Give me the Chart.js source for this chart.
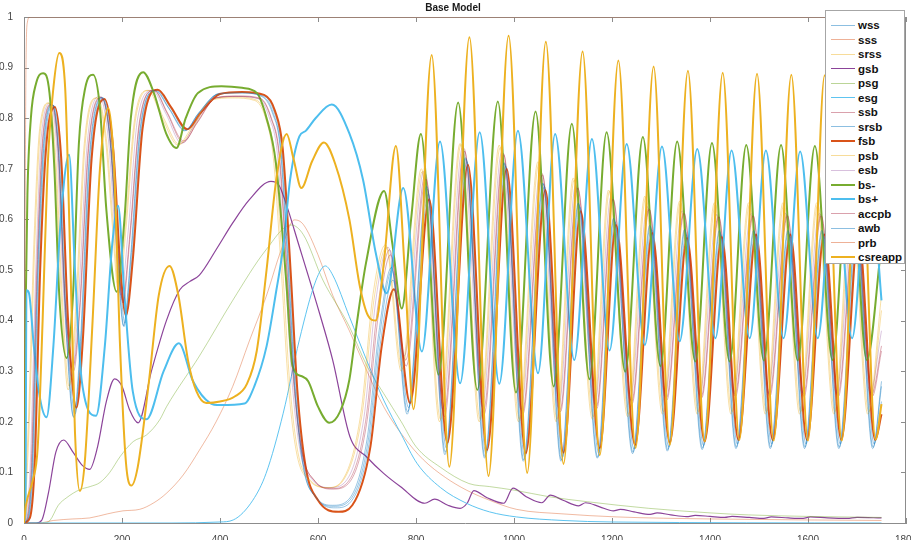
<!DOCTYPE html>
<html>
<head>
<meta charset="utf-8">
<script src="https://cdn.jsdelivr.net/npm/chart.js@4.4.1/dist/chart.umd.min.js"></script>
<style>
  body { margin: 0; background: #fff; }
  #wrap { position: relative; width: 911px; height: 540px; }
  #legend {
    position: absolute; left: 825px; top: 10px; width: 80px; height: 254px;
    border: 1px solid #a6a6a6; background: #fff; box-sizing: border-box;
    padding-top: 7px; font-family: "Liberation Sans", Arial, sans-serif;
  }
  .row { display: flex; align-items: center; height: 14.5px; }
  .swatch { margin-left: 5px; width: 24px; }
  .lbl { margin-left: 3px; font-weight: bold; font-size: 11.5px; color: #111; }
</style>
</head>
<body>
<div id="wrap">
  <canvas id="canvas"></canvas>
  <div id="legend"></div>
</div>
<script>
// series: [time, value] at turning points
var wss = [[0,0],[9,0.01],[18,0.12],[29,0.5],[41,0.75],[59,0.826],[72,0.72],[86,0.4],[102,0.208],[115,0.34],[134,0.72],[160,0.84],[178,0.74],[193,0.5],[204,0.388],[218,0.52],[238,0.78],[269,0.855],[296,0.82],[329,0.776],[356,0.81],[396,0.848],[441,0.85],[486,0.844],[508,0.812],[524,0.74],[540,0.5],[554,0.26],[571,0.11],[596,0.05],[632,0.033],[665,0.045],[702,0.16],[726,0.37],[751,0.5],[783,0.22],[823,0.66],[860,0.14],[902,0.72],[941,0.131],[981,0.71],[1020,0.125],[1060,0.67],[1097,0.125],[1132,0.63],[1171,0.13],[1204,0.6],[1243,0.14],[1278,0.585],[1314,0.145],[1349,0.577],[1385,0.148],[1420,0.575],[1454,0.15],[1490,0.575],[1524,0.15],[1560,0.575],[1594,0.15],[1629,0.575],[1664,0.15],[1699,0.575],[1733,0.15],[1750,0.27]];
var sss = [[0,0],[30,0],[60,0.005],[100,0.008],[134,0.01],[170,0.018],[202,0.024],[236,0.027],[265,0.04],[291,0.059],[325,0.095],[358,0.144],[392,0.2],[426,0.27],[460,0.36],[494,0.447],[525,0.54],[552,0.599],[570,0.59],[600,0.53],[630,0.45],[664,0.38],[700,0.3],[734,0.23],[775,0.17],[815,0.125],[860,0.09],[903,0.065],[950,0.045],[1005,0.027],[1100,0.018],[1210,0.012],[1400,0.008],[1750,0.005]];
var srss = [[0,0],[3,0.04],[10,0.18],[22,0.55],[34,0.78],[52,0.83],[65,0.72],[78,0.45],[92,0.27],[106,0.4],[125,0.75],[150,0.84],[168,0.76],[183,0.58],[194,0.455],[208,0.58],[228,0.8],[256,0.855],[285,0.8],[317,0.748],[344,0.78],[384,0.837],[429,0.842],[474,0.836],[496,0.8],[512,0.72],[528,0.5],[542,0.28],[559,0.14],[584,0.085],[622,0.07],[652,0.085],[690,0.215],[714,0.44],[740,0.545],[772,0.305],[813,0.695],[850,0.205],[892,0.748],[931,0.205],[972,0.742],[1011,0.205],[1051,0.71],[1088,0.205],[1123,0.678],[1162,0.21],[1195,0.655],[1234,0.215],[1269,0.643],[1305,0.22],[1340,0.633],[1376,0.22],[1411,0.63],[1445,0.22],[1481,0.63],[1515,0.22],[1551,0.63],[1585,0.22],[1620,0.63],[1655,0.22],[1690,0.63],[1724,0.22],[1750,0.42]];
var gsb = [[0,0],[25,0],[36,0.005],[50,0.06],[65,0.14],[81,0.164],[100,0.14],[118,0.115],[134,0.106],[150,0.15],[168,0.24],[185,0.285],[200,0.27],[215,0.225],[233,0.198],[260,0.3],[291,0.401],[318,0.461],[338,0.477],[358,0.49],[392,0.54],[426,0.593],[460,0.639],[504,0.675],[520,0.668],[530,0.645],[562,0.546],[603,0.415],[630,0.322],[665,0.171],[700,0.13],[734,0.098],[768,0.072],[818,0.039],[838,0.047],[865,0.035],[890,0.029],[905,0.04],[918,0.064],[945,0.05],[979,0.039],[998,0.069],[1025,0.052],[1057,0.04],[1074,0.055],[1100,0.045],[1132,0.034],[1146,0.04],[1175,0.032],[1203,0.024],[1217,0.027],[1245,0.022],[1278,0.017],[1292,0.02],[1320,0.016],[1352,0.0125],[1370,0.015],[1400,0.013],[1430,0.011],[1445,0.013],[1480,0.011],[1510,0.009],[1525,0.012],[1560,0.01],[1590,0.009],[1605,0.012],[1640,0.01],[1680,0.009],[1700,0.011],[1750,0.01]];
var psg = [[0,0],[40,0],[53,0.005],[70,0.035],[87,0.05],[114,0.066],[135,0.072],[155,0.08],[175,0.1],[196,0.131],[223,0.161],[250,0.174],[277,0.204],[291,0.23],[358,0.33],[426,0.44],[494,0.54],[545,0.589],[570,0.57],[610,0.48],[664,0.388],[700,0.31],[734,0.256],[770,0.2],[800,0.151],[850,0.11],[908,0.078],[950,0.072],[1000,0.065],[1071,0.052],[1150,0.042],[1275,0.029],[1400,0.02],[1478,0.016],[1600,0.013],[1750,0.011]];
var esg = [[0,0],[300,0],[400,0.002],[427,0.006],[467,0.045],[494,0.098],[529,0.217],[562,0.362],[596,0.48],[615,0.508],[630,0.49],[664,0.408],[700,0.32],[734,0.243],[770,0.175],[802,0.118],[850,0.07],[903,0.039],[950,0.022],[1005,0.012],[1100,0.005],[1200,0.002],[1750,0]];
var ssb = [[0,0],[6,0.01],[15,0.12],[26,0.5],[38,0.76],[56,0.828],[69,0.74],[83,0.45],[100,0.309],[113,0.42],[131,0.74],[157,0.842],[175,0.76],[190,0.55],[201,0.44],[215,0.56],[235,0.79],[265,0.855],[292,0.81],[325,0.752],[352,0.79],[392,0.84],[437,0.843],[482,0.838],[504,0.8],[520,0.73],[536,0.5],[550,0.28],[567,0.14],[592,0.085],[628,0.068],[660,0.08],[697,0.2],[721,0.42],[746,0.54],[779,0.322],[819,0.69],[857,0.22],[898,0.74],[938,0.225],[978,0.731],[1017,0.22],[1057,0.691],[1094,0.224],[1129,0.665],[1168,0.23],[1201,0.642],[1240,0.24],[1275,0.622],[1311,0.247],[1346,0.614],[1382,0.25],[1417,0.607],[1451,0.255],[1487,0.61],[1521,0.255],[1557,0.61],[1591,0.255],[1626,0.61],[1661,0.255],[1696,0.61],[1730,0.255],[1750,0.35]];
var srsb = [[0,0],[10,0.01],[20,0.12],[31,0.5],[43,0.75],[61,0.825],[74,0.72],[88,0.4],[104,0.215],[117,0.35],[136,0.72],[162,0.84],[180,0.74],[195,0.5],[206,0.395],[220,0.52],[240,0.78],[271,0.855],[298,0.822],[331,0.777],[358,0.81],[398,0.849],[443,0.851],[488,0.845],[510,0.814],[526,0.74],[542,0.5],[556,0.26],[573,0.11],[598,0.048],[636,0.03],[667,0.042],[704,0.155],[728,0.36],[753,0.48],[785,0.228],[825,0.65],[862,0.148],[904,0.714],[943,0.137],[983,0.705],[1022,0.13],[1062,0.665],[1099,0.13],[1134,0.625],[1173,0.138],[1206,0.595],[1245,0.146],[1280,0.58],[1316,0.15],[1351,0.57],[1387,0.153],[1422,0.57],[1456,0.156],[1492,0.57],[1526,0.156],[1562,0.57],[1596,0.156],[1631,0.57],[1666,0.156],[1701,0.57],[1735,0.156],[1750,0.24]];
var fsb = [[0,0],[12,0.01],[22,0.12],[33,0.5],[45,0.74],[63,0.822],[76,0.72],[90,0.4],[107,0.228],[120,0.36],[138,0.72],[164,0.838],[182,0.74],[197,0.5],[208,0.41],[222,0.52],[242,0.78],[273,0.856],[300,0.822],[333,0.778],[360,0.81],[400,0.848],[445,0.852],[490,0.846],[512,0.815],[528,0.74],[544,0.5],[558,0.26],[575,0.11],[600,0.045],[642,0.022],[670,0.035],[707,0.151],[730,0.349],[755,0.462],[788,0.237],[827,0.64],[864,0.158],[906,0.708],[945,0.144],[985,0.7],[1024,0.138],[1064,0.658],[1101,0.139],[1136,0.616],[1175,0.148],[1208,0.589],[1247,0.154],[1282,0.573],[1318,0.159],[1353,0.563],[1389,0.161],[1424,0.565],[1458,0.164],[1494,0.57],[1528,0.164],[1564,0.57],[1598,0.164],[1633,0.57],[1668,0.164],[1703,0.57],[1737,0.164],[1750,0.215]];
var psb = [[0,0],[2,0.05],[9,0.2],[20,0.55],[32,0.78],[50,0.83],[63,0.72],[76,0.45],[90,0.263],[104,0.4],[123,0.75],[148,0.84],[166,0.76],[181,0.58],[192,0.46],[206,0.58],[226,0.8],[253,0.855],[282,0.8],[314,0.747],[341,0.78],[381,0.835],[426,0.84],[471,0.835],[493,0.8],[509,0.72],[525,0.5],[539,0.28],[556,0.14],[581,0.085],[620,0.07],[650,0.085],[688,0.22],[712,0.45],[738,0.55],[770,0.3],[811,0.7],[848,0.2],[890,0.75],[929,0.2],[970,0.747],[1009,0.2],[1049,0.714],[1086,0.2],[1121,0.682],[1160,0.205],[1193,0.658],[1232,0.21],[1267,0.646],[1303,0.215],[1338,0.636],[1374,0.215],[1409,0.633],[1443,0.215],[1479,0.633],[1513,0.215],[1549,0.633],[1583,0.215],[1618,0.633],[1653,0.215],[1688,0.633],[1722,0.215],[1750,0.45]];
var esb = [[0,0],[4,0.01],[13,0.12],[24,0.5],[36,0.77],[54,0.829],[67,0.74],[81,0.45],[97,0.29],[110,0.42],[129,0.75],[154,0.843],[172,0.76],[187,0.56],[198,0.45],[212,0.57],[232,0.8],[262,0.855],[289,0.81],[322,0.75],[349,0.79],[389,0.84],[434,0.843],[479,0.838],[501,0.8],[517,0.73],[533,0.5],[547,0.28],[564,0.14],[589,0.085],[625,0.07],[657,0.083],[694,0.21],[718,0.44],[743,0.545],[776,0.33],[816,0.695],[854,0.225],[895,0.742],[935,0.23],[975,0.733],[1014,0.225],[1054,0.693],[1091,0.228],[1126,0.668],[1165,0.235],[1198,0.645],[1237,0.243],[1272,0.625],[1308,0.25],[1343,0.617],[1379,0.253],[1414,0.61],[1448,0.257],[1484,0.612],[1518,0.257],[1554,0.612],[1588,0.257],[1623,0.612],[1658,0.257],[1693,0.612],[1727,0.257],[1750,0.38]];
var bsMinus = [[0,0],[3,0.4],[7,0.65],[14,0.8],[25,0.87],[39,0.889],[52,0.85],[62,0.7],[72,0.45],[87,0.326],[100,0.45],[112,0.75],[125,0.86],[141,0.886],[155,0.82],[168,0.62],[189,0.457],[205,0.6],[218,0.8],[243,0.891],[265,0.85],[290,0.77],[311,0.741],[330,0.8],[355,0.85],[403,0.863],[445,0.86],[475,0.85],[495,0.8],[514,0.712],[535,0.48],[548,0.31],[567,0.29],[580,0.28],[600,0.23],[623,0.198],[645,0.22],[664,0.283],[680,0.4],[698,0.514],[735,0.656],[752,0.55],[771,0.424],[790,0.6],[810,0.769],[846,0.293],[886,0.831],[925,0.263],[967,0.833],[1004,0.258],[1044,0.813],[1081,0.27],[1118,0.789],[1154,0.284],[1189,0.772],[1227,0.299],[1263,0.763],[1299,0.31],[1333,0.754],[1370,0.319],[1404,0.751],[1440,0.319],[1474,0.747],[1510,0.321],[1545,0.747],[1579,0.321],[1614,0.745],[1650,0.322],[1685,0.745],[1720,0.322],[1750,0.55]];
var bsPlus = [[0,0],[3,0.02],[5,0.46],[10,0.455],[20,0.35],[32,0.25],[46,0.209],[60,0.35],[75,0.6],[92,0.728],[104,0.5],[118,0.28],[147,0.212],[165,0.35],[180,0.55],[192,0.627],[205,0.45],[222,0.26],[250,0.205],[285,0.3],[316,0.355],[345,0.28],[380,0.237],[400,0.233],[450,0.236],[470,0.27],[495,0.349],[515,0.46],[529,0.546],[543,0.678],[562,0.764],[575,0.775],[595,0.8],[628,0.827],[664,0.77],[692,0.678],[718,0.533],[740,0.454],[774,0.662],[812,0.339],[849,0.754],[890,0.276],[930,0.772],[970,0.275],[1008,0.775],[1049,0.296],[1084,0.769],[1123,0.322],[1159,0.759],[1195,0.341],[1230,0.749],[1267,0.352],[1302,0.744],[1338,0.359],[1374,0.739],[1411,0.365],[1444,0.736],[1481,0.365],[1514,0.736],[1550,0.365],[1584,0.734],[1620,0.365],[1654,0.733],[1690,0.365],[1724,0.73],[1750,0.44]];
var accpb = [[0,0],[7,0.01],[16,0.12],[27,0.5],[39,0.76],[57,0.827],[70,0.74],[84,0.44],[101,0.3],[114,0.42],[132,0.74],[158,0.841],[176,0.76],[191,0.55],[202,0.435],[216,0.56],[236,0.79],[266,0.855],[293,0.81],[326,0.755],[353,0.79],[393,0.841],[438,0.844],[483,0.839],[505,0.8],[521,0.73],[537,0.5],[551,0.28],[568,0.14],[593,0.083],[630,0.067],[662,0.078],[699,0.195],[723,0.41],[748,0.53],[780,0.31],[820,0.68],[858,0.21],[899,0.735],[939,0.215],[979,0.728],[1018,0.215],[1058,0.688],[1095,0.22],[1130,0.662],[1169,0.226],[1202,0.64],[1241,0.236],[1276,0.62],[1312,0.243],[1347,0.612],[1383,0.247],[1418,0.605],[1452,0.25],[1488,0.607],[1522,0.25],[1558,0.607],[1592,0.25],[1627,0.607],[1662,0.25],[1697,0.607],[1731,0.25],[1750,0.34]];
var awb = [[0,0],[8,0.01],[17,0.12],[28,0.5],[40,0.75],[58,0.827],[71,0.72],[85,0.4],[101,0.21],[114,0.34],[133,0.72],[159,0.841],[177,0.74],[192,0.5],[203,0.39],[217,0.52],[237,0.78],[268,0.854],[295,0.82],[328,0.775],[355,0.808],[395,0.847],[440,0.85],[485,0.843],[507,0.81],[523,0.74],[539,0.5],[553,0.26],[570,0.11],[595,0.052],[630,0.035],[663,0.047],[700,0.165],[724,0.375],[750,0.505],[782,0.215],[822,0.665],[859,0.135],[901,0.722],[940,0.128],[980,0.712],[1019,0.122],[1059,0.672],[1096,0.122],[1131,0.632],[1170,0.128],[1203,0.602],[1242,0.137],[1277,0.588],[1313,0.142],[1348,0.58],[1384,0.145],[1419,0.578],[1453,0.147],[1489,0.578],[1523,0.147],[1559,0.578],[1593,0.147],[1628,0.578],[1663,0.147],[1698,0.578],[1732,0.147],[1750,0.28]];
var prb = [[0,0],[2,0.5],[4,0.9],[7,0.99],[12,1],[1750,1]];
var csreapp = [[0,0],[4,0.035],[18,0.085],[28,0.15],[38,0.4],[48,0.7],[60,0.86],[72,0.929],[84,0.86],[95,0.5],[104,0.18],[114,0.063],[124,0.12],[140,0.4],[155,0.7],[172,0.82],[184,0.7],[196,0.35],[208,0.12],[219,0.074],[232,0.11],[255,0.28],[275,0.45],[297,0.508],[315,0.45],[335,0.32],[352,0.26],[372,0.237],[400,0.24],[430,0.25],[455,0.275],[475,0.34],[495,0.5],[515,0.68],[536,0.769],[550,0.72],[566,0.662],[588,0.715],[612,0.752],[635,0.71],[664,0.6],[685,0.47],[702,0.41],[718,0.4],[735,0.52],[759,0.745],[777,0.5],[795,0.225],[832,0.925],[868,0.111],[909,0.96],[948,0.093],[989,0.963],[1027,0.099],[1065,0.951],[1101,0.117],[1140,0.932],[1175,0.134],[1213,0.914],[1248,0.148],[1285,0.902],[1318,0.154],[1355,0.894],[1389,0.161],[1426,0.89],[1460,0.164],[1496,0.888],[1530,0.163],[1566,0.886],[1600,0.163],[1634,0.885],[1669,0.163],[1704,0.885],[1738,0.165],[1750,0.235]];

var names = ["wss","sss","srss","gsb","psg","esg","ssb","srsb","fsb","psb","esb","bs-","bs+","accpb","awb","prb","csreapp"];
var series = [wss, sss, srss, gsb, psg, esg, ssb, srsb, fsb, psb, esb, bsMinus, bsPlus, accpb, awb, prb, csreapp];
var colors = ["rgba(0,114,189,0.45)","rgba(217,83,25,0.45)","rgba(237,177,32,0.45)","rgba(126,47,142,0.9)",
  "rgba(119,172,48,0.5)","rgba(77,190,238,0.9)","rgba(162,20,47,0.4)","rgba(0,114,189,0.45)","#D95319",
  "rgba(237,177,32,0.45)","rgba(126,47,142,0.3)","#77AC30","#4DBEEE","rgba(162,20,47,0.4)",
  "rgba(0,114,189,0.45)","rgba(217,83,25,0.45)","#EDB120"];
var widths = [0.9,0.9,0.9,1.2,0.9,1,0.9,0.9,2,0.9,0.9,2,2,0.9,0.9,0.9,2];

var datasets = [];
for (var i = 0; i < series.length; i++) {
  datasets.push({
    label: names[i],
    data: series[i].map(function (p) { return { x: p[0], y: p[1] }; }),
    borderColor: colors[i],
    borderWidth: widths[i],
    pointRadius: 0,
    fill: false,
    cubicInterpolationMode: "monotone",
    order: series.length - i
  });
}

// matlab style box with inward ticks
var boxPlugin = {
  id: "box",
  beforeDatasetsDraw: function (chart) {
    var ctx = chart.ctx, a = chart.chartArea;
    var xs = chart.scales.x, ys = chart.scales.y;
    ctx.save();
    ctx.strokeStyle = "#8c8c8c";
    ctx.lineWidth = 1;
    ctx.beginPath();
    ctx.moveTo(a.left, a.top + 0.5); ctx.lineTo(a.right, a.top + 0.5);
    ctx.moveTo(a.right - 0.5, a.top); ctx.lineTo(a.right - 0.5, a.bottom);
    xs.ticks.forEach(function (t) {
      var px = Math.round(xs.getPixelForValue(t.value)) + 0.5;
      ctx.moveTo(px, a.bottom); ctx.lineTo(px, a.bottom - 5);
      ctx.moveTo(px, a.top); ctx.lineTo(px, a.top + 5);
    });
    ys.ticks.forEach(function (t) {
      var py = Math.round(ys.getPixelForValue(t.value)) + 0.5;
      ctx.moveTo(a.left, py); ctx.lineTo(a.left + 5, py);
      ctx.moveTo(a.right, py); ctx.lineTo(a.right - 5, py);
    });
    ctx.stroke();
    ctx.restore();
  }
};

var tickFont = { family: "'Liberation Sans', Arial, sans-serif", size: 10 };

new Chart(document.getElementById("canvas"), {
  type: "line",
  data: { datasets: datasets },
  options: {
    responsive: true,
    maintainAspectRatio: false,
    animation: false,
    parsing: false,
    layout: { padding: { left: 0, right: 5, top: 0, bottom: 0 } },
    plugins: {
      legend: { display: false },
      tooltip: { enabled: false },
      title: {
        display: true, text: "Base Model", color: "#1a1a1a",
        font: { family: "'Liberation Sans', Arial, sans-serif", size: 10, weight: "bold" },
        padding: { top: 2, bottom: 3 }
      }
    },
    scales: {
      x: {
        type: "linear", min: 0, max: 1800,
        grid: { display: false },
        border: { display: true, color: "#8c8c8c", width: 1 },
        ticks: {
          stepSize: 200, color: "#444", font: tickFont, padding: 3, maxRotation: 0,
          callback: function (v) { return String(v); }
        },
        afterFit: function (s) { s.height = 17; s.paddingLeft = 0; s.paddingRight = 0; }
      },
      y: {
        min: 0, max: 1,
        grid: { display: false },
        border: { display: true, color: "#8c8c8c", width: 1 },
        ticks: {
          stepSize: 0.1, color: "#444", font: tickFont, padding: 3,
          callback: function (v) { return String(Math.round(v * 10) / 10); }
        },
        afterFit: function (s) { s.width = 24; }
      }
    }
  },
  plugins: [boxPlugin]
});

// legend box drawn over the plot, as in the figure
var leg = document.getElementById("legend");
for (var k = 0; k < names.length; k++) {
  var row = document.createElement("div");
  row.className = "row";
  var sw = document.createElement("div");
  sw.className = "swatch";
  sw.style.height = Math.max(1, widths[k]) + "px";
  sw.style.background = colors[k];
  var lb = document.createElement("span");
  lb.className = "lbl";
  lb.textContent = names[k];
  row.appendChild(sw);
  row.appendChild(lb);
  leg.appendChild(row);
}
</script>
</body>
</html>
